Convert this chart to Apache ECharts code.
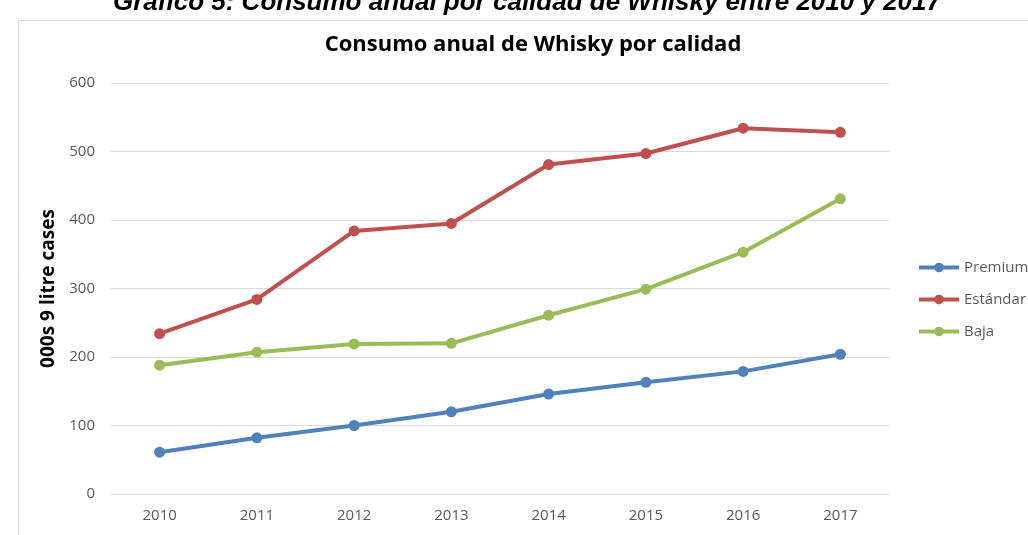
<!DOCTYPE html>
<html>
<head>
<meta charset="utf-8">
<script src="https://cdn.jsdelivr.net/npm/echarts@6/dist/echarts.min.js"></script>
<style>
  html, body { margin: 0; padding: 0; background: #ffffff; }
  #chart { width: 1028px; height: 535px; }
</style>
</head>
<body>
<div id="chart"></div>
<script>
// Years on the category axis
const years = ['2010', '2011', '2012', '2013', '2014', '2015', '2016', '2017'];

// Consumption per quality tier (000s of 9-litre cases)
const premium  = [61, 82, 100, 120, 146, 163, 179, 204];
const estandar = [234, 284, 384, 395, 481, 497, 534, 528];
const baja     = [188, 207, 219, 220, 261, 299, 353, 431];

const seriesNames = ['Premium', 'Estándar', 'Baja'];
const seriesColors = ['#4F81BD', '#C0504D', '#9BBB59'];

// Value axis ticks
const yMin = 0, yMax = 600, yStep = 100;

const chart = echarts.init(document.getElementById('chart'));

function lineSeries(name, data, color) {
  return {
    name: name,
    type: 'line',
    data: data,
    symbol: 'circle',
    symbolSize: 11,
    lineStyle: { color: color, width: 4 },
    itemStyle: { color: color },
    emphasis: { disabled: true },
    animation: false
  };
}

chart.setOption({
  animation: false,
  backgroundColor: '#ffffff',
  title: {
    text: 'Consumo anual de Whisky por calidad',
    left: 528,
    textAlign: 'center',
    top: 29,
    textStyle: { fontFamily: 'Open Sans', fontSize: 22, fontWeight: 'bold', color: '#000000' }
  },
  graphic: [
    {
      type: 'rect',
      shape: { x: 18.5, y: 20.5, width: 1100, height: 600 },
      style: { fill: 'none', stroke: '#D9D9D9', lineWidth: 1 },
      silent: true
    },
    {
      type: 'text',
      style: {
        x: 527, y: 16,
        text: 'Gráfico 5: Consumo anual por calidad de Whisky entre 2010 y 2017',
        font: 'italic bold 26px "Liberation Sans", Arial, sans-serif',
        fill: '#000000',
        textAlign: 'center',
        textVerticalAlign: 'bottom'
      },
      silent: true
    }
  ],
  legend: {
    orient: 'vertical',
    left: 917,
    top: 260,
    padding: 0,
    itemWidth: 40,
    itemHeight: 12,
    itemGap: 17,
    data: seriesNames,
    lineStyle: { width: 4 },
    textStyle: { fontFamily: 'Open Sans', fontSize: 15, color: '#595959' }
  },
  grid: { left: 111, width: 778, top: 83, height: 411 },
  xAxis: {
    type: 'category',
    data: years,
    boundaryGap: true,
    axisLine: { show: true, lineStyle: { color: '#D9D9D9', width: 1 } },
    axisTick: { show: false },
    axisLabel: { fontFamily: 'Open Sans', fontSize: 15, color: '#595959', margin: 14 }
  },
  yAxis: {
    type: 'value',
    min: yMin, max: yMax, interval: yStep,
    name: '000s 9 litre cases',
    nameLocation: 'middle',
    nameGap: 53,
    nameTextStyle: { fontFamily: 'Open Sans', fontSize: 19, fontWeight: 'bold', color: '#000000' },
    axisLine: { show: false },
    axisTick: { show: false },
    splitLine: { lineStyle: { color: '#D9D9D9', width: 1 } },
    axisLabel: { fontFamily: 'Open Sans', fontSize: 15, color: '#595959', margin: 16 }
  },
  series: [
    lineSeries(seriesNames[0], premium, seriesColors[0]),
    lineSeries(seriesNames[1], estandar, seriesColors[1]),
    lineSeries(seriesNames[2], baja, seriesColors[2])
  ]
});
</script>
</body>
</html>
